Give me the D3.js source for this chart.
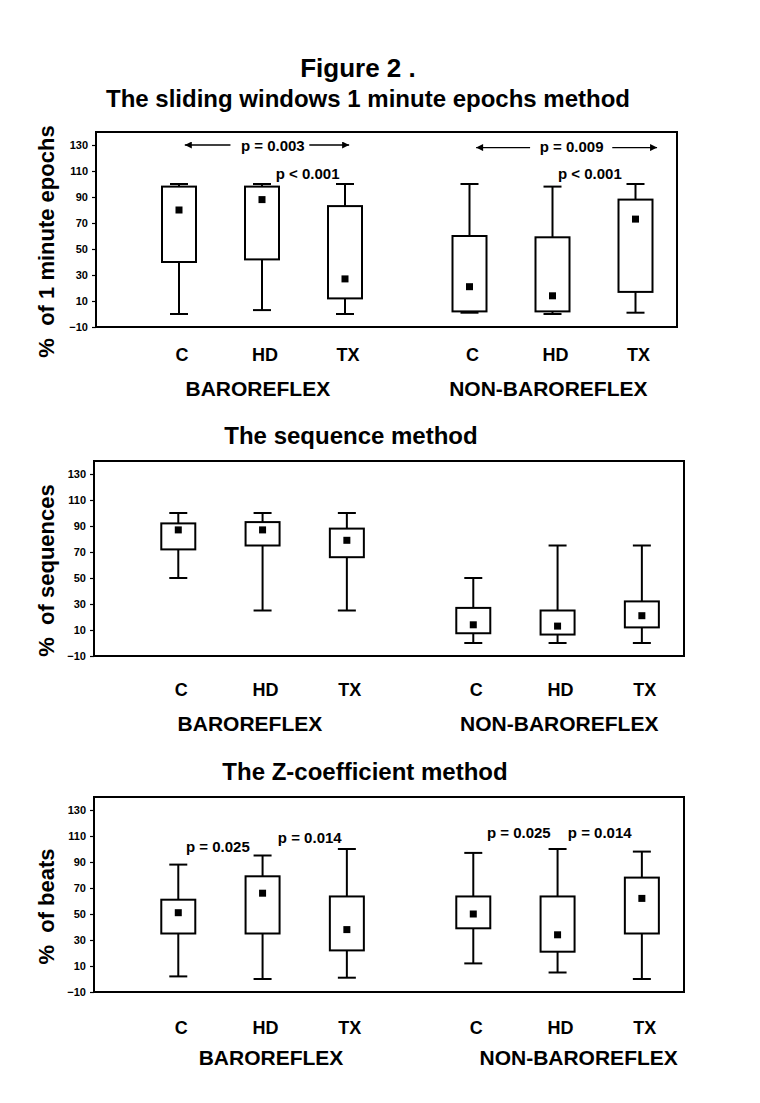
<!DOCTYPE html>
<html>
<head>
<meta charset="utf-8">
<script src="https://cdn.jsdelivr.net/npm/d3@7"></script>
<style>
  body { margin: 0; background: #fff; }
  text { font-family: Arial, "Liberation Sans", sans-serif; font-weight: bold; fill: #000; }
</style>
</head>
<body>
<svg id="chart" width="760" height="1103"></svg>
<script>
var groups = ["BAROREFLEX", "NON-BAROREFLEX"];
var cats = ["C", "HD", "TX"];
var yTicks = [-10, 10, 30, 50, 70, 90, 110, 130];

// order: C, HD, TX (baroreflex) then C, HD, TX (non-baroreflex)
var epochLow  = [0, 3, 0, 1, 0, 1];
var epochQ1   = [40, 42, 12, 2, 2, 17];
var epochQ3   = [98, 98, 83, 60, 59, 88];
var epochHigh = [100, 100, 100, 100, 98, 100];
var epochMean = [80, 88, 27, 21, 14, 73];

var seqLow  = [50, 25, 25, 0, 0, 0];
var seqQ1   = [72, 75, 66, 7.5, 6.5, 12];
var seqQ3   = [92, 93, 88, 27, 25, 32];
var seqHigh = [100, 100, 100, 50, 75, 75];
var seqMean = [87, 87, 79, 14, 13, 21];

var zLow  = [2, 0, 1, 12, 5, 0];
var zQ1   = [35, 35, 22, 39, 21, 35];
var zQ3   = [61, 79, 63.5, 63.5, 63.5, 78];
var zHigh = [88, 95, 100, 97, 100, 98];
var zMean = [51, 66, 38, 50, 34, 62];

var svg = d3.select("#chart");

function stats(low, q1, q3, high, mean) {
  return low.map(function (d, i) {
    return { i: i, low: d, q1: q1[i], q3: q3[i], high: high[i], mean: mean[i] };
  });
}

// slot index: categories one step apart, groups 1.5 steps apart
function slot(i) {
  return Math.floor(i / 3) * 3.5 + (i % 3);
}

svg.append("text")
  .attr("x", 358).attr("y", 77)
  .attr("text-anchor", "middle")
  .style("font-size", "26px")
  .text("Figure 2 .");

var defs = svg.append("defs");
["left", "right"].forEach(function (dir) {
  defs.append("marker")
    .attr("id", "head-" + dir)
    .attr("viewBox", "0 0 10 10")
    .attr("refX", dir === "left" ? 0 : 10)
    .attr("refY", 5)
    .attr("markerWidth", 12)
    .attr("markerHeight", 7)
    .attr("markerUnits", "userSpaceOnUse")
    .attr("orient", "0")
    .append("path")
    .attr("d", dir === "left" ? "M0,5 L10,0 L10,10 Z" : "M10,5 L0,0 L0,10 Z")
    .attr("fill", "#000");
});

var panels = [
  {
    title: "The sliding windows 1 minute epochs method", titleX: 368, titleY: 107,
    ylabel: "%  of 1 minute epochs",
    top: 132, bottom: 327, left: 96, right: 677,
    data: stats(epochLow, epochQ1, epochQ3, epochHigh, epochMean),
    catY: 361, groupY: 396,
    groupX: [0.95, 4.45],
    pvals: [
      { t: "p = 0.003", x: 1.13, v: 125.5 },
      { t: "p < 0.001", x: 1.55, v: 104 },
      { t: "p = 0.009", x: 4.73, v: 124.5 },
      { t: "p < 0.001", x: 4.95, v: 103.5 }
    ],
    arrows: [
      { x0: 0.07, x1: 0.62, v: 130, dir: "left" },
      { x0: 1.57, x1: 2.05, v: 130, dir: "right" },
      { x0: 3.58, x1: 4.23, v: 128, dir: "left" },
      { x0: 5.22, x1: 5.76, v: 128, dir: "right" }
    ]
  },
  {
    title: "The sequence method", titleX: 351, titleY: 444,
    ylabel: "%  of sequences",
    top: 461, bottom: 656, left: 94, right: 684,
    data: stats(seqLow, seqQ1, seqQ3, seqHigh, seqMean),
    catY: 696, groupY: 731,
    groupX: [0.85, 4.52],
    pvals: [], arrows: []
  },
  {
    title: "The Z-coefficient method", titleX: 365, titleY: 780,
    ylabel: "%  of beats",
    top: 797, bottom: 992, left: 94, right: 684,
    data: stats(zLow, zQ1, zQ3, zHigh, zMean),
    catY: 1034, groupY: 1065,
    groupX: [1.1, 4.75],
    pvals: [
      { t: "p = 0.025", x: 0.47, v: 97.5 },
      { t: "p = 0.014", x: 1.56, v: 104.5 },
      { t: "p = 0.025", x: 4.04, v: 108.5 },
      { t: "p = 0.014", x: 5.0, v: 108.5 }
    ],
    arrows: []
  }
];

panels.forEach(function (p) {
  var x = d3.scaleLinear().domain([-1, 6]).range([p.left, p.right]);
  var y = d3.scaleLinear().domain([-10, 140]).range([p.bottom, p.top]);
  var g = svg.append("g");

  svg.append("text")
    .attr("x", p.titleX).attr("y", p.titleY)
    .attr("text-anchor", "middle")
    .style("font-size", "24px")
    .text(p.title);

  // frame
  g.append("rect")
    .attr("x", p.left).attr("y", p.top)
    .attr("width", p.right - p.left).attr("height", p.bottom - p.top)
    .attr("fill", "none").attr("stroke", "#000").attr("stroke-width", 2);

  var axis = g.append("g")
    .attr("transform", "translate(" + p.left + ",0)")
    .call(d3.axisLeft(y).tickValues(yTicks).tickSize(4).tickPadding(4));
  axis.select(".domain").remove();
  axis.selectAll("line").attr("stroke", "#000").attr("stroke-width", 1.2);
  axis.selectAll("text")
    .style("font-size", "11px")
    .style("font-family", "Arial, 'Liberation Sans', sans-serif")
    .style("font-weight", "bold");

  svg.append("text")
    .attr("transform", "translate(54," + ((p.top + p.bottom) / 2 + 12) + ") rotate(-90)")
    .attr("text-anchor", "middle")
    .style("font-size", "22px")
    .style("white-space", "pre")
    .text(p.ylabel);

  var box = g.selectAll("g.box")
    .data(p.data)
    .enter()
    .append("g")
    .attr("class", "box")
    .attr("transform", function (d) { return "translate(" + x(slot(d.i)) + ",0)"; });

  // whisker stems
  box.append("line")
    .attr("x1", 0).attr("x2", 0)
    .attr("y1", function (d) { return y(d.low); })
    .attr("y2", function (d) { return y(d.high); })
    .attr("stroke", "#000").attr("stroke-width", 2);

  // caps
  box.selectAll("line.cap")
    .data(function (d) { return [d.low, d.high]; })
    .enter()
    .append("line")
    .attr("class", "cap")
    .attr("x1", -9).attr("x2", 9)
    .attr("y1", function (v) { return y(v); })
    .attr("y2", function (v) { return y(v); })
    .attr("stroke", "#000").attr("stroke-width", 2);

  box.append("rect")
    .attr("x", -17).attr("width", 34)
    .attr("y", function (d) { return y(d.q3); })
    .attr("height", function (d) { return y(d.q1) - y(d.q3); })
    .attr("fill", "#fff").attr("stroke", "#000").attr("stroke-width", 2);

  box.append("rect")
    .attr("x", -3.5).attr("width", 7)
    .attr("y", function (d) { return y(d.mean) - 3.5; })
    .attr("height", 7)
    .attr("fill", "#000");

  // category labels
  g.selectAll("text.cat")
    .data(p.data)
    .enter()
    .append("text")
    .attr("class", "cat")
    .attr("x", function (d) { return x(slot(d.i)) + 3; })
    .attr("y", p.catY)
    .attr("text-anchor", "middle")
    .style("font-size", "18px")
    .text(function (d) { return cats[d.i % 3]; });

  g.selectAll("text.grp")
    .data(groups)
    .enter()
    .append("text")
    .attr("class", "grp")
    .attr("x", function (d, i) { return x(p.groupX[i]); })
    .attr("y", p.groupY)
    .attr("text-anchor", "middle")
    .style("font-size", "21px")
    .text(function (d) { return d; });

  g.selectAll("text.pval")
    .data(p.pvals)
    .enter()
    .append("text")
    .attr("class", "pval")
    .attr("x", function (d) { return x(d.x); })
    .attr("y", function (d) { return y(d.v); })
    .attr("text-anchor", "middle")
    .style("font-size", "15px")
    .text(function (d) { return d.t; });

  g.selectAll("line.arrow")
    .data(p.arrows)
    .enter()
    .append("line")
    .attr("class", "arrow")
    .attr("x1", function (d) { return x(d.x0); })
    .attr("x2", function (d) { return x(d.x1); })
    .attr("y1", function (d) { return y(d.v); })
    .attr("y2", function (d) { return y(d.v); })
    .attr("stroke", "#000").attr("stroke-width", 1.3)
    .attr("marker-start", function (d) { return d.dir === "left" ? "url(#head-left)" : null; })
    .attr("marker-end", function (d) { return d.dir === "right" ? "url(#head-right)" : null; });
});
</script>
</body>
</html>
